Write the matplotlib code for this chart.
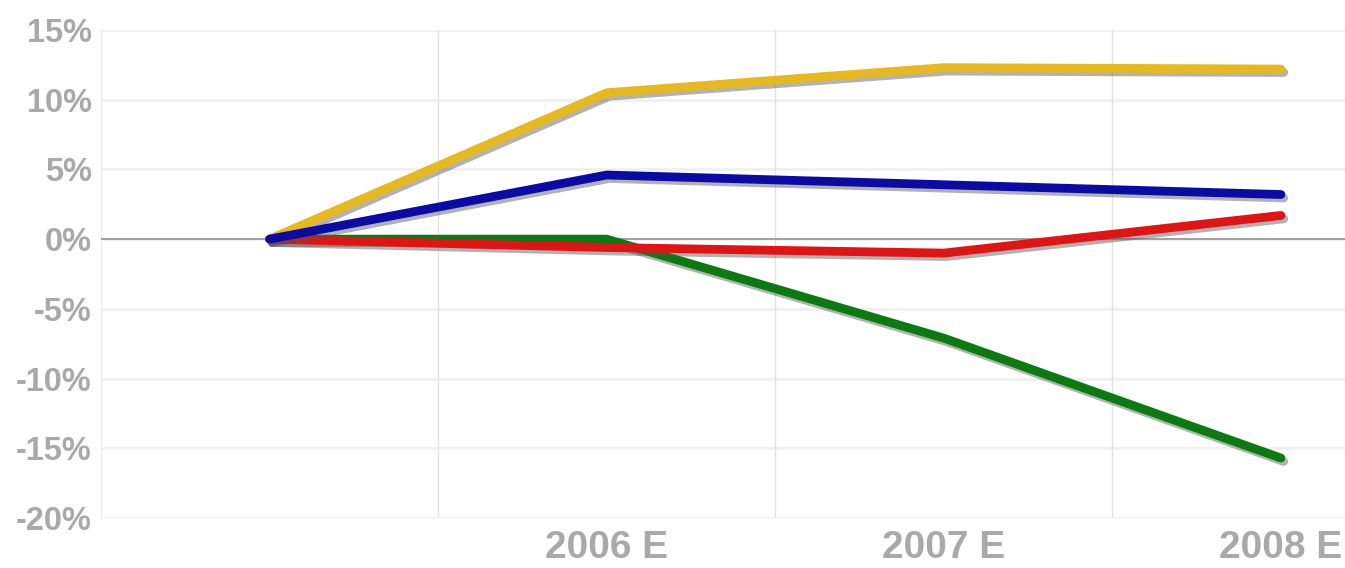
import matplotlib
matplotlib.use("Agg")
import matplotlib.pyplot as plt
import matplotlib.patheffects as pe

# Data
categories = ["", "2006 E", "2007 E", "2008 E"]
yellow = [0.0, 10.5, 12.3, 12.2]
blue = [0.0, 4.6, 3.9, 3.2]
red = [0.0, -0.6, -1.0, 1.7]
green = [0.0, 0.0, -7.1, -15.7]
y_ticks = [15, 10, 5, 0, -5, -10, -15, -20]

W, H = 1345, 568
fig = plt.figure(figsize=(W / 100, H / 100), dpi=100)
ax = fig.add_axes([101 / W, 1 - 518 / H, 1 - 101 / W, (518 - 30) / H])

x = list(range(len(categories)))
ax.set_xlim(-0.5, 3.19)
ax.set_ylim(-20, 15)

# grid
for yv in y_ticks:
    ax.axhline(yv, color="#f1f1f1", lw=2.2, zorder=0)
for xv in [0.5, 1.5, 2.5]:
    ax.axvline(xv, color="#e2e2e2", lw=1.0, zorder=0)
ax.axvline(-0.5, color="#e8e8e8", lw=1.5, zorder=0)
ax.axhline(0, color="#a0a0a0", lw=1.4, zorder=1)

shadow = [pe.SimpleLineShadow(offset=(2, -2.5), shadow_color="#555555", alpha=0.45),
          pe.Normal()]
series = [(green, "#0b7a10"), (red, "#e01414"), (yellow, "#e6b91e"), (blue, "#0a0aa5")]
for vals, col in series:
    ax.plot(x, vals, color=col, lw=6.3, solid_capstyle="round",
            solid_joinstyle="round", path_effects=shadow, zorder=3)

for s in ax.spines.values():
    s.set_visible(False)

ax.set_yticks(y_ticks)
ax.set_yticklabels([f"{v}%" for v in y_ticks])
ax.set_xticks(x)
ax.set_xticklabels(categories)
ax.tick_params(length=0)
ax.tick_params(axis="y", pad=6.5)
ax.tick_params(axis="x", pad=9)
for lbl in ax.get_yticklabels():
    lbl.set_fontfamily(["Liberation Sans", "DejaVu Sans"])
    lbl.set_fontweight("bold")
    lbl.set_fontsize(23.5)
    lbl.set_color("#a9a9a9")
for lbl in ax.get_xticklabels():
    lbl.set_fontfamily(["Liberation Sans", "DejaVu Sans"])
    lbl.set_fontweight("bold")
    lbl.set_fontsize(28)
    lbl.set_color("#a9a9a9")

fig.savefig("out.png", dpi=100)
